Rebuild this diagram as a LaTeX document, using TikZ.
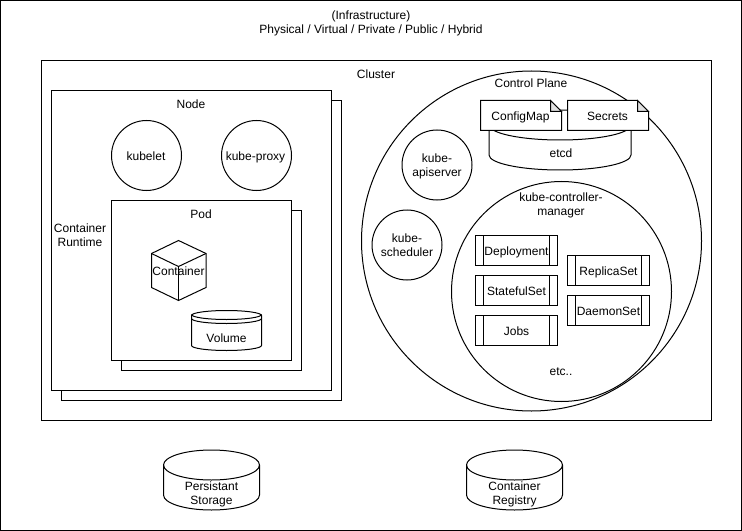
\documentclass[tikz,border=0pt]{standalone}
\usepackage{fontspec}
\setmainfont{Liberation Sans}
\usetikzlibrary{positioning}

\begin{document}
\begin{tikzpicture}[x=0.75pt,y=-0.75pt,font=\fontsize{9pt}{10.5pt}\selectfont,line width=0.75pt,
    label/.style={align=center,inner sep=0pt,yshift=-1.5pt,execute at begin node=\strut,execute at end node=\strut}]

\useasboundingbox (0,0) rectangle (742,531);

% ========================
% INFRASTRUCTURE AND CLUSTER
% ========================

\draw (0.5,0.5) rectangle (741.5,530.5);
\node[label] (infra) at (371,22) {(Infrastructure)\\Physical / Virtual / Private / Public / Hybrid};

\draw (41.5,60.5) rectangle (711.5,420.5);
\node[label] (cluster) at (376,74) {Cluster};

% ========================
% NODE (LEFT)
% ========================

\draw (61.5,100.5) rectangle (341.5,400.5);
\draw[fill=white] (51.5,90.5) rectangle (331.5,390.5);
\node[label] (node) at (191,104) {Node};

\draw (146.5,155.5) circle (35);
\node[label] (kubelet) at (146,156) {kubelet};
\draw (256.5,155.5) circle (35);
\node[label] (proxy) at (255.5,156) {kube-proxy};

\node[label] (runtime) at (80,235) {Container\\Runtime};

% pod
\draw (121.5,210.5) rectangle (301.5,370.5);
\draw[fill=white] (111.5,200.5) rectangle (291.5,360.5);
\node[label] (pod) at (201,214) {Pod};

% container cube
\draw (178.5,240.5) -- (206,253.5) -- (206,287.5) -- (178.5,300.5) -- (151.5,287.5) -- (151.5,253.5) -- cycle;
\draw (151.5,253.5) -- (178.5,266.5) -- (206,253.5);
\draw (178.5,266.5) -- (178.5,300.5);
\node[label] (container) at (178.5,271) {Container};

% volume
\draw (191.5,315.5) arc[start angle=180,end angle=360,x radius=35,y radius=5]
    -- (261.5,345.5) arc[start angle=0,end angle=180,x radius=35,y radius=5] -- cycle;
\foreach \yline in {314.5,318.5}
    \draw (191.5,\yline) arc[start angle=180,end angle=0,x radius=35,y radius=5];
\node[label] (volume) at (226.5,338) {Volume};

% ========================
% CONTROL PLANE (RIGHT)
% ========================

\draw (531.5,241) circle (170);
\node[label] (control) at (531,83) {Control Plane};

% etcd with the two notes on top
\draw[fill=white] (489,125) arc[start angle=180,end angle=360,x radius=71,y radius=15]
    -- (631,155) arc[start angle=0,end angle=180,x radius=71,y radius=15] -- cycle;
\draw (489,125) arc[start angle=180,end angle=0,x radius=71,y radius=15];
\node[label] (etcd) at (561,153) {etcd};

\foreach \xnote/\nname/\ntext in {480.5/configmap/ConfigMap,567.5/secrets/Secrets}{
    \draw[fill=white] (\xnote,100.5) -- ++(70,0) -- ++(11,11) -- ++(0,19) -- ++(-81,0) -- cycle;
    \draw[fill=black!12] (\xnote+70,100.5) -- ++(0,11) -- ++(11,0) -- cycle;
    \node[label] (\nname) at (\xnote+40,116) {\ntext};
}

\draw (437,165) circle (35);
\node[label] (apiserver) at (437,165) {kube-\\apiserver};
\draw (407,245) circle (35);
\node[label] (scheduler) at (407,245) {kube-\\scheduler};

% controller manager
\draw (561.5,291.5) circle (110);
\node[label] (manager) at (561,204) {kube-controller-\\manager};

\foreach \xbox/\ybox/\bname/\btext in {475.5/235.5/deployment/Deployment,475.5/275.5/statefulset/StatefulSet,
    475.5/315.5/jobs/Jobs,567.5/255.5/replicaset/ReplicaSet,567.5/295.5/daemonset/DaemonSet}{
    \draw (\xbox,\ybox) rectangle ++(82,30);
    \draw (\xbox+8,\ybox) -- ++(0,30);
    \draw (\xbox+74,\ybox) -- ++(0,30);
    \node[label] (\bname) at (\xbox+41,\ybox+15) {\btext};
}
\node[label] (etc) at (561,371) {etc..};

% ========================
% STORAGE (BOTTOM)
% ========================

\foreach \xdrum/\dname/\dtext in {163.5/storage/Persistant\\Storage,466.5/registry/Container\\Registry}{
    \draw (\xdrum,465) arc[start angle=180,end angle=360,x radius=48,y radius=15]
        -- (\xdrum+96,495) arc[start angle=0,end angle=180,x radius=48,y radius=15] -- cycle;
    \draw (\xdrum,465) arc[start angle=180,end angle=0,x radius=48,y radius=15];
    \node[label] (\dname) at (\xdrum+48,493) {\dtext};
}

\end{tikzpicture}
\end{document}
